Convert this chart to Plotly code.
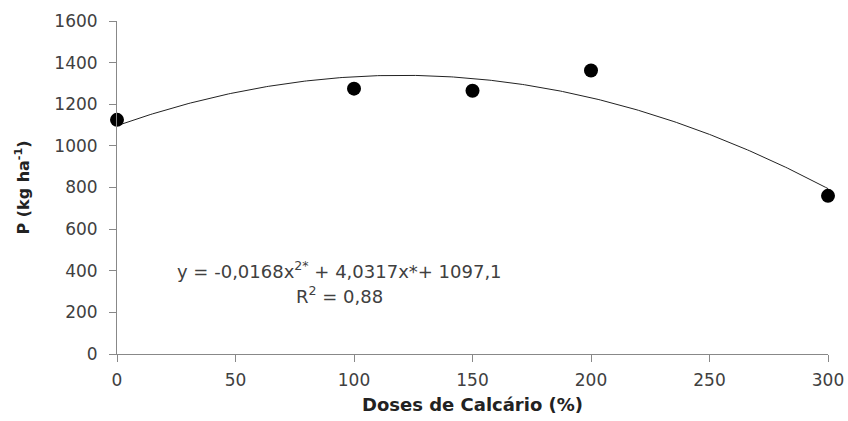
import numpy as np
import plotly.graph_objects as go

doses = [0, 100, 150, 200, 300]
p_values = [1125, 1275, 1265, 1362, 760]

# fitted trendline coefficients (as printed on the chart)
a2, a1, a0 = -0.0168, 4.0317, 1097.1
x_fit = np.linspace(0, 300, 301)
y_fit = a2 * x_fit**2 + a1 * x_fit + a0

x_ticks = [0, 50, 100, 150, 200, 250, 300]
y_ticks = [0, 200, 400, 600, 800, 1000, 1200, 1400, 1600]

font_family = "DejaVu Sans, sans-serif"
grey = "#404040"

fig = go.Figure()
fig.add_trace(go.Scatter(x=x_fit, y=y_fit, mode="lines",
                         line=dict(color="#222222", width=1), hoverinfo="skip"))
fig.add_trace(go.Scatter(x=doses, y=p_values, mode="markers", cliponaxis=False,
                         marker=dict(color="black", size=14)))

fig.add_annotation(x=94, y=404, xref="x", yref="y", showarrow=False,
                   text="y = -0,0168x<sup>2*</sup> + 4,0317x*+ 1097,1",
                   font=dict(family=font_family, size=18, color=grey))
fig.add_annotation(x=94, y=282, xref="x", yref="y", showarrow=False,
                   text="R<sup>2</sup> = 0,88",
                   font=dict(family=font_family, size=18, color=grey))

fig.update_layout(
    width=848, height=421,
    margin=dict(l=117, r=20, t=21, b=67, autoexpand=False),
    plot_bgcolor="white", paper_bgcolor="white",
    showlegend=False,
    font=dict(family=font_family, size=17, color=grey),
)
fig.update_xaxes(range=[0, 300], tickvals=x_ticks, showgrid=False, zeroline=False,
                 showline=True, linecolor="#888888", linewidth=1,
                 ticks="outside", ticklen=7, tickcolor="#888888",
                 ticklabelstandoff=4, automargin=False,
                 tickfont=dict(size=17, color=grey),
                 title=dict(text="<b>Doses de Calcário (%)</b>", standoff=8,
                            font=dict(size=18, color="#222222")))
fig.update_yaxes(range=[0, 1600], tickvals=y_ticks, showgrid=False, zeroline=False,
                 showline=True, linecolor="#888888", linewidth=1,
                 ticks="outside", ticklen=7, tickcolor="#888888",
                 ticklabelstandoff=8, automargin=False,
                 tickfont=dict(size=17, color=grey),
                 title=dict(text="<b>P (kg ha<sup>-1</sup>)</b>", standoff=20,
                            font=dict(size=16, color="#222222")))

fig.write_html("out.html")
